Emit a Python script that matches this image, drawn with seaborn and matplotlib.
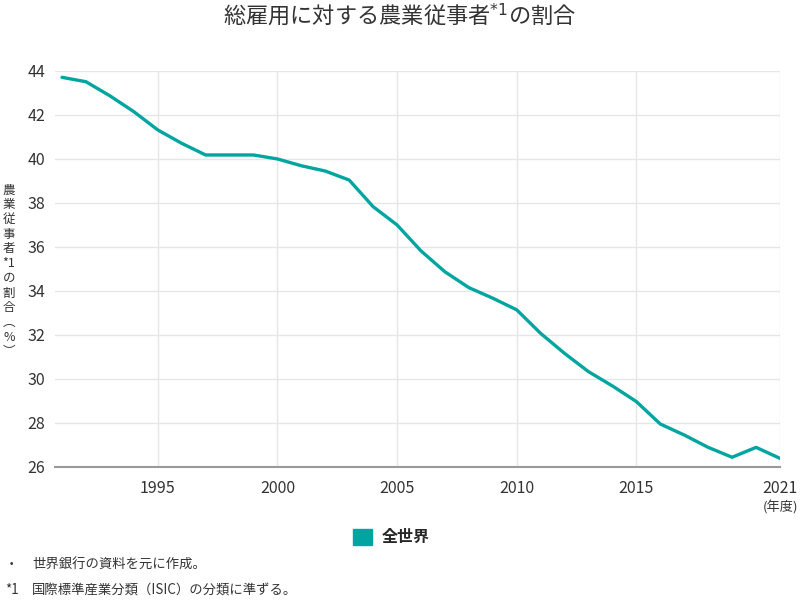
import matplotlib
matplotlib.use("Agg")
import matplotlib.pyplot as plt
from matplotlib.patches import Patch
import seaborn as sns
import pandas as pd

# ---- data ----
years = list(range(1991, 2022))
share = [43.69, 43.49, 42.85, 42.13, 41.30, 40.69, 40.16, 40.16, 40.16, 39.98,
         39.67, 39.43, 39.02, 37.81, 36.98, 35.80, 34.85, 34.13, 33.65, 33.12,
         32.05, 31.14, 30.31, 29.66, 28.95, 27.93, 27.43, 26.87, 26.42, 26.87,
         26.37]
series_name = "全世界"
x_ticks = [1995, 2000, 2005, 2010, 2015, 2021]
x_tick_labels = ["1995", "2000", "2005", "2010", "2015", "2021"]
y_ticks = [26, 28, 30, 32, 34, 36, 38, 40, 42, 44]
title = "総雇用に対する農業従事者$^{*1}$の割合"
ylabel_chars = ["農", "業", "従", "事", "者", "*1", "の", "割", "合", "︵", "%", "︶"]
x_unit = "(年度)"
notes = [("・", "世界銀行の資料を元に作成。"),
         ("*1", "国際標準産業分類（ISIC）の分類に準ずる。")]

df = pd.DataFrame({"year": years, "share": share, "region": series_name})

# ---- style ----
sns.set_theme(style="whitegrid")
plt.rcParams["font.family"] = ["Noto Sans CJK JP", "DejaVu Sans"]
plt.rcParams["axes.unicode_minus"] = False

teal = "#00a5a0"
text_col = "#333333"

fig = plt.figure(figsize=(8, 6), dpi=100)
ax = fig.add_axes([55 / 800, 1 - 466.5 / 600, 725 / 800, 396 / 600])

sns.lineplot(data=df, x="year", y="share", color=teal, linewidth=2.4,
             ax=ax, legend=False)

ax.set_xlim(1991 - 7 / 23.93, 2021)
ax.set_ylim(26, 44)
ax.set_xticks(x_ticks)
ax.set_xticklabels(x_tick_labels)
ax.set_yticks(y_ticks)
ax.set_xlabel("")
ax.set_ylabel("")

ax.grid(True, color="#e6e6e6", linewidth=1.0)
ax.set_axisbelow(True)
for side in ["left", "top", "right"]:
    ax.spines[side].set_visible(False)
ax.spines["bottom"].set_color("#999999")
ax.spines["bottom"].set_linewidth(1.5)
ax.tick_params(axis="both", length=0, labelsize=11.5, colors=text_col)
ax.tick_params(axis="y", pad=7)
ax.tick_params(axis="x", pad=10)

fig.text(780 / 800, 1 - 508 / 600, x_unit, ha="center", va="center",
         fontsize=9.5, color=text_col)

fig.text(0.5, 1 - 15 / 600, title, ha="center", va="center",
         fontsize=16, color=text_col)

fig.text(9 / 800, 1 - 271 / 600, "\n".join(ylabel_chars), ha="center",
         va="center", fontsize=9, color=text_col, linespacing=1.17)

fig.legend(handles=[Patch(facecolor=teal, edgecolor=teal, label=series_name)],
           loc="center", bbox_to_anchor=(391 / 800, 1 - 537 / 600),
           frameon=False, handlelength=1.2, handleheight=1.2,
           handletextpad=0.6, prop={"weight": "bold", "size": 11.5})

for i, (mark, txt) in enumerate(notes):
    y = 1 - (565 + 25 * i) / 600
    fig.text(5 / 800, y, mark, ha="left", va="center", fontsize=9.6, color=text_col)
    fig.text(32 / 800, y, txt, ha="left", va="center", fontsize=9.6, color=text_col)

fig.savefig("out.png", dpi=100)
